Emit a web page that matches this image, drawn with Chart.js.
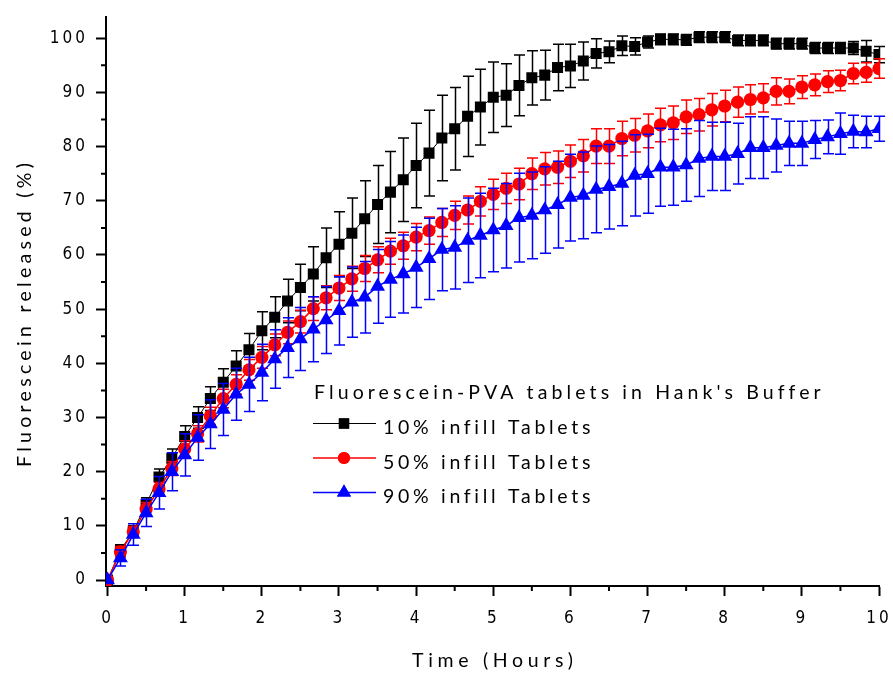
<!DOCTYPE html>
<html>
<head>
<meta charset="utf-8">
<script src="https://cdn.jsdelivr.net/npm/chart.js@4.4.1/dist/chart.umd.min.js"></script>
<style>
  html, body { margin: 0; padding: 0; background: #fff; }
  #wrap { width: 893px; height: 677px; }
</style>
</head>
<body>
<div id="wrap"><canvas id="releaseChart" width="893" height="677"></canvas></div>
<script>
// sampling times (hours), every 10 minutes
const times = [0, 0.167, 0.333, 0.5, 0.667, 0.833, 1, 1.167, 1.333, 1.5, 1.667, 1.833, 2, 2.167, 2.333, 2.5, 2.667, 2.833,
  3, 3.167, 3.333, 3.5, 3.667, 3.833, 4, 4.167, 4.333, 4.5, 4.667, 4.833, 5, 5.167, 5.333, 5.5, 5.667, 5.833,
  6, 6.167, 6.333, 6.5, 6.667, 6.833, 7, 7.167, 7.333, 7.5, 7.667, 7.833, 8, 8.167, 8.333, 8.5, 8.667, 8.833,
  9, 9.167, 9.333, 9.5, 9.667, 9.833, 10];

const infill10 = [0, 5.5, 9, 14, 19, 22.5, 26.5, 30, 33.5, 36.5, 39.5, 42.5, 46, 48.5, 51.5, 54, 56.5, 59.5,
  62, 64, 66.7, 69.3, 71.6, 73.9, 76.5, 78.8, 81.6, 83.3, 85.6, 87.3, 89.1, 89.5, 91.3, 92.7, 93.2, 94.6,
  94.9, 95.8, 97.2, 97.5, 98.6, 98.5, 99.3, 99.8, 99.8, 99.7, 100.2, 100.2, 100.2, 99.6, 99.6, 99.6, 99.0, 99.0,
  99.0, 98.2, 98.2, 98.2, 98.2, 97.6, 97.0];
const infill10Err = [0, 1, 1, 1.2, 1.5, 1.7, 2, 2, 2.2, 2.5, 2.8, 3, 3.5, 3.8, 4, 4.3, 5, 5.5,
  6, 6.5, 7, 7.2, 7.5, 7.7, 7.8, 7.9, 7.9, 7.6, 7.4, 7, 6.5, 5.8, 5.6, 5, 4.6, 4.3,
  4, 3.5, 2.7, 2, 1.8, 1.6, 1.1, 1, 1, 1, 1, 1, 1, 1, 1, 1, 1, 1,
  1, 1, 1, 1, 1.2, 2, 1.5];

const infill50 = [0, 5.2, 8.9, 13.1, 16.8, 20.6, 24.2, 27.0, 30.3, 33.5, 36.1, 38.8, 41.1, 43.4, 45.7, 47.7, 50.1, 52.1,
  53.9, 55.6, 57.5, 59.1, 60.7, 61.7, 63.3, 64.5, 66.0, 67.3, 68.3, 69.9, 71.2, 72.3, 73.1, 75.0, 75.9, 76.2,
  77.3, 78.3, 80.1, 80.1, 81.5, 82.1, 82.9, 84.0, 84.4, 85.5, 85.9, 86.8, 87.5, 88.2, 88.7, 89.0, 90.2, 90.2,
  91.0, 91.4, 92.0, 92.2, 93.5, 93.7, 94.4];
const infill50Err = [0, 1, 1, 1.2, 1.2, 1.3, 1.5, 1.5, 1.6, 1.7, 1.8, 1.9, 2, 2, 2.1, 2.1, 2.2, 2.2,
  2.3, 2.3, 2.4, 2.4, 2.4, 2.5, 2.5, 2.5, 2.6, 2.6, 2.6, 2.7, 2.8, 2.8, 2.9, 2.9, 3, 3,
  3, 3, 3.2, 3.2, 3.2, 3.1, 3.1, 3.1, 3.1, 3.1, 3, 3, 2.9, 2.8, 2.7, 2.6, 2.5, 2.3,
  2.1, 2, 2, 1.9, 1.9, 1.8, 1.8];

const infill90 = [0, 4.1, 8.4, 12.4, 16.1, 20.0, 23.1, 26.3, 28.8, 31.5, 34.3, 36.1, 38.3, 40.8, 42.9, 44.5, 46.3, 48.0,
  49.7, 51.3, 52.2, 54.2, 55.5, 56.5, 57.7, 59.3, 61.0, 61.4, 62.7, 63.6, 64.6, 65.4, 66.9, 67.3, 68.3, 69.3,
  70.6, 71.0, 72.1, 72.6, 73.2, 74.7, 75.0, 76.2, 76.2, 76.6, 77.8, 78.2, 78.2, 78.7, 79.8, 79.8, 80.2, 80.6,
  80.6, 81.3, 81.8, 82.4, 82.8, 82.7, 83.3];
const infill90Err = [0, 1.5, 2, 2.5, 3, 3.5, 3.9, 4.2, 4.5, 4.8, 4.8, 5, 5.2, 5.4, 5.5, 5.8, 6, 6.2,
  6.3, 6.5, 6.6, 6.8, 7, 7.2, 7.4, 7.5, 7.6, 7.7, 7.8, 7.8, 7.7, 7.8, 8.2, 8, 8, 8,
  8, 8, 8, 7.8, 7.8, 7.5, 7.3, 7.2, 7, 6.7, 7, 6.3, 6.3, 5.6, 5.7, 5.7, 4.9, 4.1,
  4.1, 3.5, 3.1, 3.8, 3, 2.9, 2.3];

const xTicks = [0, 1, 2, 3, 4, 5, 6, 7, 8, 9, 10];
const yTicks = [0, 10, 20, 30, 40, 50, 60, 70, 80, 90, 100];
const legendTitle = "Fluorescein-PVA tablets in Hank's Buffer";
const seriesNames = ['10% infill Tablets', '50% infill Tablets', '90% infill Tablets'];
const xTitle = 'Time (Hours)';
const yTitle = 'Fluorescein released (%)';

const tickFont = { family: "'Liberation Sans Narrow', 'DejaVu Sans Condensed', sans-serif", size: 17 };
const textFamily = "Lato, 'Open Sans', sans-serif";

function toPoints(ys) {
  return times.map((t, i) => ({ x: t, y: ys[i] }));
}

// draw text spread to a given width (the original uses wide character spacing)
function spreadText(ctx, text, x, y, width) {
  ctx.letterSpacing = '0px';
  const w0 = ctx.measureText(text).width;
  const sp = (width - w0) / (text.length - 1);
  ctx.letterSpacing = sp + 'px';
  ctx.fillText(text, x, y);
}

const errorBars = {
  id: 'errorBars',
  beforeDatasetDraw(chart, args) {
    const ds = chart.data.datasets[args.index];
    if (!ds.errors) return;
    const c = chart.ctx, xs = chart.scales.x, ys = chart.scales.y;
    c.save();
    c.strokeStyle = ds.borderColor;
    c.lineWidth = 1.5;
    ds.data.forEach((p, i) => {
      const e = ds.errors[i];
      if (!e) return;
      const px = Math.round(xs.getPixelForValue(p.x)) + 0.5;
      const top = ys.getPixelForValue(p.y + e);
      const bot = ys.getPixelForValue(p.y - e);
      c.beginPath();
      c.moveTo(px, top); c.lineTo(px, bot);
      c.moveTo(px - 5.5, top); c.lineTo(px + 5.5, top);
      c.moveTo(px - 5.5, bot); c.lineTo(px + 5.5, bot);
      c.stroke();
    });
    c.restore();
  }
};

const decorations = {
  id: 'decorations',
  beforeDraw(chart) {
    chart.ctx.letterSpacing = '3px';
  },
  afterDraw(chart) {
    const c = chart.ctx, xs = chart.scales.x, ys = chart.scales.y;
    const area = chart.chartArea;
    c.save();
    // minor ticks
    c.strokeStyle = '#000';
    c.lineWidth = 2;
    c.beginPath();
    for (let i = 0; i < xTicks.length - 1; i++) {
      const px = xs.getPixelForValue((xTicks[i] + xTicks[i + 1]) / 2);
      c.moveTo(px, area.bottom); c.lineTo(px, area.bottom + 5);
    }
    for (let i = 0; i < yTicks.length - 1; i++) {
      const py = ys.getPixelForValue((yTicks[i] + yTicks[i + 1]) / 2);
      c.moveTo(area.left, py); c.lineTo(area.left - 5, py);
    }
    c.stroke();

    // axis titles
    c.fillStyle = '#000';
    c.font = '19.5px ' + textFamily;
    c.textAlign = 'left';
    c.textBaseline = 'alphabetic';
    spreadText(c, xTitle, 412, 667, 161);
    c.save();
    c.translate(31, 467);
    c.rotate(-Math.PI / 2);
    spreadText(c, yTitle, 0, 0, 304);
    c.restore();

    // legend
    spreadText(c, legendTitle, 314, 398.5, 506);
    const rowsY = [423.5, 458, 492.5];
    chart.data.datasets.forEach((ds, i) => {
      const y = rowsY[i];
      c.strokeStyle = ds.borderColor;
      c.lineWidth = ds.borderWidth;
      c.beginPath();
      c.moveTo(313, y); c.lineTo(376, y);
      c.stroke();
      c.fillStyle = ds.borderColor;
      Chart.helpers.drawPoint(c, { pointStyle: ds.pointStyle, radius: ds.pointRadius - 0.5, rotation: 0, borderWidth: 0 }, 344, y);
      c.fill();
      c.fillStyle = '#000';
      spreadText(c, seriesNames[i], 383, y + 10.5, 207);
    });
    c.restore();
  }
};

const ctx = document.getElementById('releaseChart').getContext('2d');
const chart = new Chart(ctx, {
  type: 'scatter',
  data: {
    datasets: [
      {
        label: seriesNames[0], data: toPoints(infill10), errors: infill10Err,
        borderColor: '#000000', backgroundColor: '#000000', borderWidth: 1,
        pointStyle: 'rect', pointRadius: 7.8, pointBorderWidth: 0,
        showLine: true, order: 3
      },
      {
        label: seriesNames[1], data: toPoints(infill50), errors: infill50Err,
        borderColor: '#ff0000', backgroundColor: '#ff0000', borderWidth: 1.5,
        pointStyle: 'circle', pointRadius: 6.6, pointBorderWidth: 0,
        showLine: true, order: 2
      },
      {
        label: seriesNames[2], data: toPoints(infill90), errors: infill90Err,
        borderColor: '#0000ff', backgroundColor: '#0000ff', borderWidth: 1.5,
        pointStyle: 'triangle', pointRadius: 8.6, pointBorderWidth: 0,
        showLine: true, order: 1
      }
    ]
  },
  options: {
    responsive: false,
    animation: false,
    layout: { padding: { top: 16.6, right: 14, left: 0, bottom: 0 } },
    plugins: { legend: { display: false }, tooltip: { enabled: false } },
    scales: {
      x: {
        type: 'linear', min: -0.02, max: 10,
        afterBuildTicks: s => { s.ticks = xTicks.map(v => ({ value: v })); },
        afterFit: s => { s.height = 91; s.paddingLeft = 0; s.paddingRight = 0; },
        ticks: { font: tickFont, color: '#000', padding: 12, maxRotation: 0, autoSkip: false },
        grid: { drawOnChartArea: false, tickLength: 10, tickWidth: 2, color: '#000' },
        border: { color: '#000', width: 2 }
      },
      y: {
        type: 'linear', min: -1.1, max: 104,
        afterBuildTicks: s => { s.ticks = yTicks.map(v => ({ value: v })); },
        afterFit: s => { s.width = 106; s.paddingTop = 0; s.paddingBottom = 0; },
        ticks: { font: tickFont, color: '#000', padding: 8, autoSkip: false },
        grid: { drawOnChartArea: false, tickLength: 10, tickWidth: 2, color: '#000' },
        border: { color: '#000', width: 2 }
      }
    }
  },
  plugins: [errorBars, decorations]
});
</script>
</body>
</html>
